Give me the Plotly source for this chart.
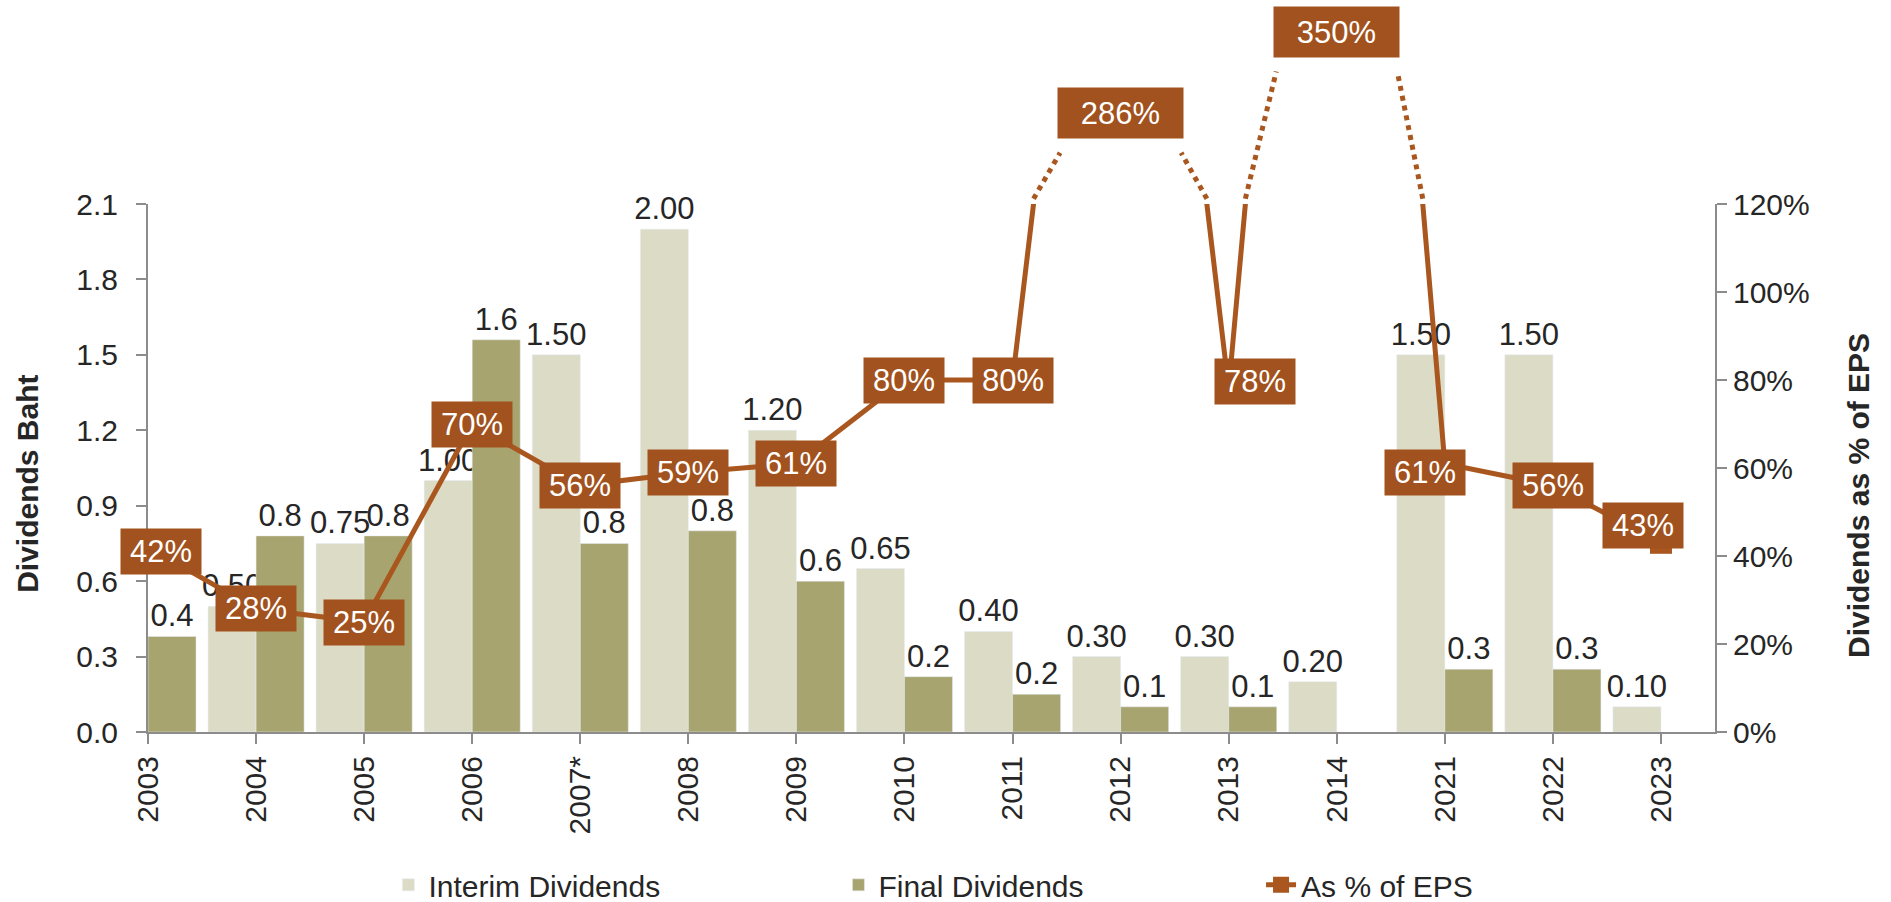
import plotly.graph_objects as go
from decimal import Decimal, ROUND_HALF_UP

# ---------------- data ----------------
years = ["2003", "2004", "2005", "2006", "2007*", "2008", "2009", "2010",
         "2011", "2012", "2013", "2014", "2021", "2022", "2023"]
interim = [None, 0.50, 0.75, 1.00, 1.50, 2.00, 1.20, 0.65,
           0.40, 0.30, 0.30, 0.20, 1.50, 1.50, 0.10]
final = [0.38, 0.78, 0.78, 1.56, 0.75, 0.80, 0.60, 0.22,
         0.15, 0.10, 0.10, None, 0.25, 0.25, None]
eps_pct = [0.42, 0.28, 0.25, 0.70, 0.56, 0.59, 0.61, 0.80,
           0.80, 2.86, 0.78, 3.50, 0.61, 0.56, 0.43]

left_ticks = [0.0, 0.3, 0.6, 0.9, 1.2, 1.5, 1.8, 2.1]
right_ticks = [0.0, 0.2, 0.4, 0.6, 0.8, 1.0, 1.2]

# ---------------- style ----------------
FONT = "Liberation Sans, Arial, sans-serif"
TXT = "#262626"
AXIS = "#8C8C8C"
C_INTERIM = "#DCDBC5"
C_FINAL = "#A8A46F"
C_LINE = "#A9571F"
C_BOX = "#A1521E"
CAP = 1.2  # right axis maximum

# per-label pixel nudges (label index -> (dx, dy))
label_nudge = {0: (13, -4), 10: (26, 7), 12: (-20, -9), 14: (-18, 17)}
# display height (paper) for labels whose value is beyond the axis
overflow_label_y = {9: 1.172, 11: 1.326}


def half_up(v, nd):
    if v is None:
        return None
    q = Decimal(1).scaleb(-nd)
    return str(Decimal(str(v)).quantize(q, rounding=ROUND_HALF_UP))


interim_txt = [half_up(v, 2) for v in interim]
final_txt = [half_up(v, 1) for v in final]

fig = go.Figure()
fig.add_trace(go.Bar(
    x=years, y=interim, name="Interim Dividends", marker_color=C_INTERIM,
    text=interim_txt, textposition="outside", cliponaxis=False,
    constraintext="none", textfont=dict(size=31, color=TXT, family=FONT),
    legend="legend", showlegend=True))
fig.add_trace(go.Bar(
    x=years, y=final, name="Final Dividends", marker_color=C_FINAL,
    text=final_txt, textposition="outside", cliponaxis=False,
    constraintext="none", textfont=dict(size=31, color=TXT, family=FONT),
    legend="legend2", showlegend=True))
fig.add_trace(go.Scatter(
    x=years, y=eps_pct, name="As % of EPS", yaxis="y2",
    mode="lines+markers", line=dict(color=C_LINE, width=5),
    marker=dict(symbol="square", size=22, color=C_LINE),
    legend="legend3", showlegend=True))

annotations = []
shapes = []
for i, (yr, v) in enumerate(zip(years, eps_pct)):
    dx, dy = label_nudge.get(i, (0, 0))
    txt = f"{round(v * 100)}%"
    big = len(txt) > 3
    ann = dict(x=i, text=txt, showarrow=False, bgcolor=C_BOX,
               font=dict(size=31, color="white", family=FONT),
               width=125 if big else 80, height=50 if big else 45,
               borderpad=0, xshift=dx, yshift=dy, xref="x",
               xanchor="center")
    if v > CAP:
        ann.update(y=overflow_label_y[i], yref="paper", yanchor="middle")
        top = overflow_label_y[i] - 0.075
        # crossings of the series with the axis maximum, from the data
        xl = (i - 1) + (CAP - eps_pct[i - 1]) / (v - eps_pct[i - 1])
        xr = i + (v - CAP) / (v - eps_pct[i + 1])
        for x0, x1 in ((xl, i - 0.56), (xr, i + 0.56)):
            shapes.append(dict(type="line", xref="x", yref="paper",
                               x0=x0, y0=1.01, x1=x1, y1=top,
                               line=dict(color=C_LINE, width=5, dash="dot")))
    else:
        ann.update(y=v, yref="y2", yanchor="middle")
    annotations.append(ann)

annotations.append(dict(text="<b>Dividends Baht</b>", textangle=-90,
                        xref="paper", yref="paper", x=0, y=0.47,
                        xanchor="center", yanchor="middle",
                        xshift=-120, showarrow=False,
                        font=dict(size=30, color=TXT, family=FONT)))
annotations.append(dict(text="<b>Dividends as % of EPS</b>", textangle=-90,
                        xref="paper", yref="paper", x=1, y=0.447,
                        xanchor="center", yanchor="middle",
                        xshift=144, showarrow=False,
                        font=dict(size=30, color=TXT, family=FONT)))

legend_common = dict(orientation="h", yref="container", yanchor="middle",
                     y=0.019, xanchor="left",
                     font=dict(size=30, color=TXT, family=FONT),
                     bgcolor="rgba(0,0,0,0)")

fig.update_layout(
    width=1891, height=902,
    margin=dict(l=148, r=176, t=204, b=170, autoexpand=False),
    paper_bgcolor="white", plot_bgcolor="white",
    showlegend=True,
    barmode="group", bargap=0.111, bargroupgap=0,
    font=dict(family=FONT, size=30, color=TXT),
    xaxis=dict(type="category", categoryorder="array", categoryarray=years,
               range=[0, 14.5], tickangle=-90, ticks="outside", ticklen=10,
               tickwidth=2, tickcolor=AXIS, showline=True, linecolor=AXIS,
               linewidth=2, showgrid=False, zeroline=False,
               tickfont=dict(size=30, color=TXT)),
    yaxis=dict(range=[0, 2.1], tickvals=left_ticks, tickformat=".1f",
               ticks="outside", ticklen=10, tickwidth=2, tickcolor=AXIS,
               showline=True, linecolor=AXIS, linewidth=2, showgrid=False,
               zeroline=False, ticklabelstandoff=12,
               tickfont=dict(size=30, color=TXT)),
    yaxis2=dict(range=[0, CAP], tickvals=right_ticks, tickformat=".0%",
                overlaying="y", side="right", ticks="outside", ticklen=10,
                tickwidth=2, tickcolor=AXIS, showline=True, linecolor=AXIS,
                linewidth=2, showgrid=False, zeroline=False,
                tickfont=dict(size=30, color=TXT)),
    legend=dict(legend_common, x=0.1534),
    legend2=dict(legend_common, x=0.4406),
    legend3=dict(legend_common, x=0.7103),
    annotations=annotations,
    shapes=shapes,
)

fig.write_html("out.html",
               config={"displayModeBar": False},
               post_script="document.body.style.margin='0';"
                           "document.body.style.overflow='hidden';")
